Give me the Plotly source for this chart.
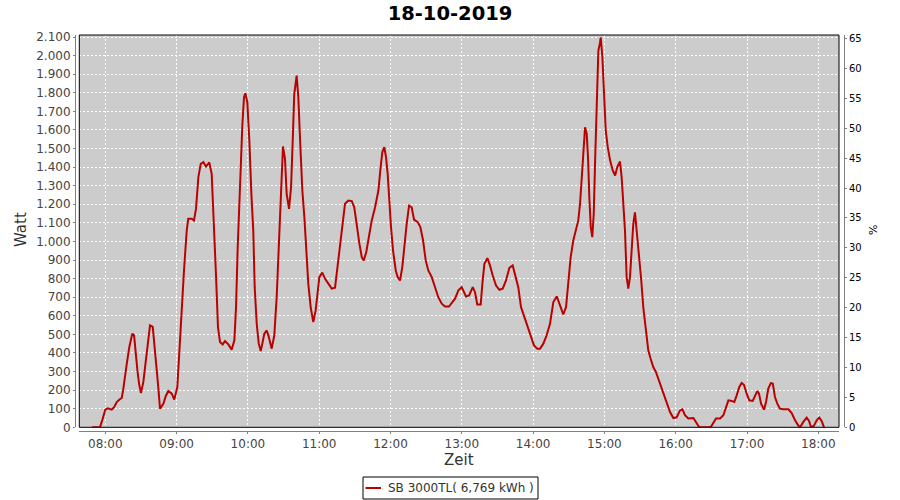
import plotly.graph_objects as go
from datetime import datetime, timedelta

# ---------------- data ----------------
chart_title = "18-10-2019"
series_name = "SB 3000TL( 6,769 kWh )"
day = "2019-10-18"

# minutes after 08:00 and measured power in Watt
minutes_after_8 = [
    -11.2, -4.5, -2.5, 0, 2, 5.4, 7.5, 9.6, 12, 13.8, 15, 16.6, 18, 20.2, 22.7, 24.2,
    25.5, 27, 28.5, 30, 32, 34.8, 37.6, 39.9, 41.5, 42.7, 44.5, 46, 48.8, 51, 53, 55.9,
    58, 60.6, 62.3, 64.3, 66.2, 68.5, 69.8, 72.7, 74.6, 76.3, 78.3, 80.3, 82.5, 84.7,
    87.5, 89.5, 91.5, 93.2, 94.8, 96.5, 98.8, 100.7, 103.5, 106.3, 108.6, 110, 111.4,
    113.3, 115.3, 116.7, 117.8, 119.5, 121.2, 122.9, 124.5, 125.7, 127.4, 129.1, 130.8,
    132.4, 133.8, 135.8, 137.2, 140, 142.2, 144.2, 146.2, 147.9, 149.5, 151.2, 152.6,
    154.6, 156.3, 157.7, 159, 161, 162.4, 164.1, 165.8, 167.5, 169.1, 170.8, 172.8, 175,
    177, 178.7, 180.1, 182.6, 184.9, 187.7, 190.5, 193.3, 195.6, 197.5, 199.4, 201.7,
    204.5, 207.4, 209.5, 211.6, 213.8, 215.8, 217.5, 219.6, 222.2, 224.2, 227, 229.8,
    231.4, 233.1, 234.8, 236.2, 237.6, 239, 240.4, 242.1, 244.4, 246, 248, 249.9, 251.6,
    253.6, 255.6, 257.8, 259.8, 262.9, 265.1, 267.4, 269.6, 271.8, 274.7, 277.4, 280.2,
    283.1, 285.9, 289.2, 292, 294.3, 297.1, 299.9, 303.5, 306.1, 309.2, 311.1, 313, 315.9,
    317.3, 319, 321.5, 323.7, 326, 328.8, 331.6, 334.4, 337.2, 340, 342.8, 344.8, 347.5,
    349.8, 352.6, 355.4, 358.2, 360.7, 363.5, 365.8, 368.6, 371.4, 374.2, 377, 379.9,
    382.6, 385.4, 387.7, 389.6, 391.6, 393.8, 396.1, 398, 399.5, 400.9, 402.2, 403.7,
    405.1, 406.2, 407.3, 408.5, 409.8, 411, 412.1, 413.5, 414.9, 416.1, 416.9, 418.3,
    419.7, 421.1, 422.8, 424.8, 427, 429, 430.8, 433.1, 434.5, 435.9, 437.3, 438.7, 440.1,
    441.5, 442.9, 444.3, 445.7, 447.2, 449, 451, 452.7, 454.1, 455.6, 456.9, 458.9, 461.1,
    463.4, 465.7, 467.9, 470.1, 472.4, 475.2, 478, 480.8, 483.6, 485.6, 487.8, 490.6,
    494.9, 497.7, 499.8, 509, 510.3, 513.9, 517.3, 520.1, 522.3, 524.3, 527.1, 529.3,
    531.3, 533.5, 535.5, 537.4, 539.7, 541.9, 544.8, 546.7, 548.6, 550.1, 551.8, 554.3,
    556, 557.9, 560, 561.7, 563.5, 565.5, 567.7, 570.6, 574.8, 577.6, 580.4, 583.2, 584.6,
    587.4, 590.2, 592.2, 593.9, 596.4, 598.6, 600.8, 602.8, 604.8,
]
watts = [
    0, 0, 40, 95, 102, 95, 110, 136, 150, 158, 200, 289, 340, 432, 504, 495,
    400, 306, 230, 184, 244, 396, 548, 540, 440, 360, 220, 100, 127, 170, 195, 181,
    149, 217, 414, 665, 844, 1059, 1122, 1122, 1113, 1175, 1346, 1418, 1427, 1403,
    1425, 1364, 1095, 808, 539, 459, 446, 464, 446, 418, 468, 647, 969,
    1328, 1624, 1776, 1797, 1749, 1543, 1256, 1059, 754, 557, 450, 410,
    459, 504, 521, 495, 423, 495, 700, 1023, 1346, 1511, 1444, 1256,
    1175, 1292, 1543, 1794, 1892, 1776, 1516, 1274, 1131, 952, 773, 647, 566,
    629, 737, 808, 832, 799, 773, 746, 751, 880, 988, 1095, 1203,
    1220, 1217, 1184, 1077, 988, 916, 898, 943, 1041, 1113, 1184, 1274,
    1382, 1480, 1507, 1453, 1364, 1203, 1077, 952, 844, 808, 790, 862, 988,
    1095, 1193, 1184, 1117, 1104, 1077, 1005, 898, 844, 808, 754, 700,
    665, 650, 650, 674, 692, 737, 754, 704, 710, 754, 727, 661, 661,
    773, 880, 910, 871, 817, 763, 740, 746, 790, 858, 871, 826, 754,
    647, 593, 548, 495, 441, 423, 423, 450, 495, 557, 674, 704,
    656, 607, 647, 773, 916, 1005, 1059, 1113, 1203, 1346, 1489, 1614,
    1579, 1453, 1238, 1077, 1023, 1149, 1418, 1776, 2027, 2063, 2098, 1991,
    1776, 1597, 1507, 1435, 1382, 1355, 1400, 1430, 1346, 1203, 1059, 808, 746,
    808, 969, 1095, 1157, 1059, 916, 790, 647, 557, 486, 414, 369, 324,
    297, 253, 217, 181, 127, 82, 50, 54, 91, 97, 65, 47,
    50, 20, 0, 0, 9, 47, 47, 65, 109, 145, 142, 136,
    172, 217, 238, 229, 181, 145, 142, 172, 195, 181, 127, 95,
    136, 208, 238, 235, 163, 127, 100, 97, 97, 77, 38, 9, 0,
    29, 52, 34, 0, 9, 38, 52, 34, 0,
]

hour_tick_labels = ["08:00", "09:00", "10:00", "11:00", "12:00", "13:00",
                    "14:00", "15:00", "16:00", "17:00", "18:00"]
watt_tick_values = [0, 100, 200, 300, 400, 500, 600, 700, 800, 900, 1000, 1100,
                    1200, 1300, 1400, 1500, 1600, 1700, 1800, 1900, 2000, 2100]
watt_tick_labels = ["0", "100", "200", "300", "400", "500", "600", "700", "800", "900",
                    "1.000", "1.100", "1.200", "1.300", "1.400", "1.500", "1.600",
                    "1.700", "1.800", "1.900", "2.000", "2.100"]
pct_tick_values = [0, 5, 10, 15, 20, 25, 30, 35, 40, 45, 50, 55, 60, 65]
x_range = ["07:38:06", "18:17:24"]
watt_range = [0, 2110.8]
pct_range = [0, 65.6]

# ---------------- figure ----------------
base = datetime(2019, 10, 18, 8, 0)
times = [base + timedelta(minutes=m) for m in minutes_after_8]
tickvals_x = [f"{day} {h}" for h in hour_tick_labels]

FONT = "DejaVu Sans"
RED = "#bb0000"
fig = go.Figure()
fig.add_trace(go.Scatter(
    x=times, y=watts, mode="lines", name=series_name, showlegend=False,
    line=dict(color=RED, width=2),
))
fig.add_trace(go.Scatter(
    x=[times[0]], y=[None], yaxis="y2", mode="lines", showlegend=False,
    hoverinfo="skip",
))

L, R, T, B = 75, 56, 35, 69
pw, ph = 900 - L - R, 500 - T - B

def px_x(x):
    return (x - L) / pw

def px_y(y):
    return (500 - B - y) / ph

grid = dict(showgrid=True, gridcolor="white", gridwidth=1, griddash="2px,2px", zeroline=False)
axis_common = dict(showline=True, linecolor="#808080", linewidth=1,
                   ticks="outside", ticklen=2, tickcolor="#808080", automargin=False)

# custom legend box (drawn in pixel-mapped paper coordinates)
leg_x0, leg_x1, leg_y0, leg_y1 = 363, 538, 477, 499
shapes = [
    dict(type="rect", xref="x domain", yref="y domain", x0=0, x1=1, y0=0, y1=1,
         line=dict(color="black", width=1), layer="above"),
    dict(type="rect", xref="paper", yref="paper",
         x0=px_x(leg_x0), x1=px_x(leg_x1), y0=px_y(leg_y1), y1=px_y(leg_y0),
         line=dict(color="black", width=1), fillcolor="white"),
    dict(type="line", xref="paper", yref="paper",
         x0=px_x(365.5), x1=px_x(381), y0=px_y(488), y1=px_y(488),
         line=dict(color=RED, width=2)),
]

fig.update_layout(
    template="none",
    width=900, height=500,
    margin=dict(l=L, r=R, t=T, b=B, autoexpand=False),
    paper_bgcolor="white", plot_bgcolor="#cccccc",
    font=dict(family=FONT, size=12, color="#444444"),
    title=dict(text=chart_title, x=0.5, xanchor="center", xref="container",
               y=1 - 13 / 500, yanchor="middle", yref="container",
               font=dict(family=FONT, size=19.5, color="black", weight="bold")),
    xaxis=dict(
        type="date", domain=[px_x(79.3), px_x(839)], anchor="free", position=0,
        range=[f"{day} {x_range[0]}", f"{day} {x_range[1]}"],
        tickvals=tickvals_x, ticktext=hour_tick_labels,
        tickfont=dict(size=12, color="#444444"), **axis_common, **grid,
    ),
    yaxis=dict(
        domain=[px_y(427.3), 1], anchor="free", position=0,
        range=watt_range, tickvals=watt_tick_values, ticktext=watt_tick_labels,
        tickfont=dict(size=12, color="#444444"), **axis_common, **grid,
    ),
    yaxis2=dict(
        overlaying="y", side="right", anchor="free", position=1,
        range=pct_range, tickvals=pct_tick_values,
        tickfont=dict(size=10, color="black"), showgrid=False, zeroline=False,
        **axis_common,
    ),
    shapes=shapes,
    annotations=[
        dict(text="Watt", xref="paper", yref="paper", x=px_x(21), y=px_y(230),
             textangle=-90, showarrow=False, xanchor="center", yanchor="middle",
             font=dict(size=15, color="#333333")),
        dict(text="Zeit", xref="paper", yref="paper", x=px_x(459.3), y=px_y(459.7),
             showarrow=False, xanchor="center", yanchor="middle",
             font=dict(size=15, color="#333333")),
        dict(text="%", xref="paper", yref="paper", x=px_x(873), y=px_y(230),
             textangle=-90, showarrow=False, xanchor="center", yanchor="middle",
             font=dict(size=11, color="black")),
        dict(text=series_name, xref="paper", yref="paper", x=px_x(385.5), y=px_y(488),
             showarrow=False, xanchor="left", yanchor="middle",
             font=dict(size=12, color="#333333")),
    ],
    showlegend=False,
)

fig.write_html("out.html", config={"displayModeBar": False},
               post_script="document.body.style.margin='0';")
